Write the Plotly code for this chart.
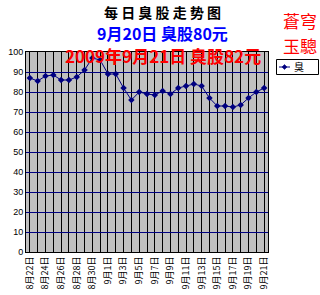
import plotly.graph_objects as go

dates = ["8月22日", "8月23日", "8月24日", "8月25日", "8月26日", "8月27日", "8月28日", "8月29日",
         "8月30日", "8月31日", "9月1日", "9月2日", "9月3日", "9月4日", "9月5日", "9月6日",
         "9月7日", "9月8日", "9月9日", "9月10日", "9月11日", "9月12日", "9月13日", "9月14日",
         "9月15日", "9月16日", "9月17日", "9月18日", "9月19日", "9月20日", "9月21日"]
values = [87, 85.5, 88, 88.5, 86, 86, 87.5, 91, 97, 96, 89, 89, 82, 76, 80, 79,
          78.5, 80.5, 79, 82, 83, 84, 83, 77, 73, 73, 72.5, 73.5, 77, 80, 82]
series_name = "臭"
tick_labels = [d if i % 2 == 0 else "" for i, d in enumerate(dates)]
y_ticks = [0, 10, 20, 30, 40, 50, 60, 70, 80, 90, 100]

W, H = 320, 295
L, R, T, B = 26, 268, 52, 252
NAVY = "#000080"


def xp(px):
    return (px - L) / (R - L)


def yp(py):
    return (B - py) / (B - T)


CJK = "Noto Sans CJK SC"

fig = go.Figure()
fig.add_trace(go.Scatter(
    x=dates, y=values, name=series_name, mode="lines+markers",
    line=dict(color=NAVY, width=1),
    marker=dict(symbol="diamond", size=5, color=NAVY),
    showlegend=False,
))

fig.update_layout(
    width=W, height=H,
    margin=dict(l=L, r=W - R, t=T, b=H - B, pad=0, autoexpand=False),
    paper_bgcolor="white", plot_bgcolor="#C0C0C0",
    showlegend=False,
    xaxis=dict(type="category", range=[-0.5, 30.5],
               tickvals=dates, ticktext=tick_labels, tickangle=-90,
               showgrid=True, gridcolor="black", gridwidth=1,
               showline=True, linecolor="black", mirror=True,
               tickfont=dict(family=CJK, size=9, color="black"),
               ticks="", automargin=False, fixedrange=True),
    yaxis=dict(range=[0, 100], tickvals=y_ticks,
               showgrid=True, gridcolor=NAVY, gridwidth=1,
               showline=True, linecolor="black", mirror=True,
               zeroline=False,
               tickfont=dict(family="Liberation Sans", size=9, color="black"),
               ticks="", automargin=False, fixedrange=True),
)

ann = [
    dict(text="<b>每 日 臭 股 走 势 图</b>", x=xp(162), y=yp(12), size=14, color="black"),
    dict(text="<b>9月20日 臭股80元</b>", x=xp(162), y=yp(33), size=16, color="#0000FF"),
    dict(text="<b>2009年9月21日 臭股82元</b>", x=xp(163), y=yp(55), size=17, color="#FF0000"),
    dict(text="蒼穹", x=xp(300), y=yp(20), size=17, color="#FF0000"),
    dict(text="玉驄", x=xp(300), y=yp(45), size=17, color="#FF0000"),
]
for a in ann:
    fig.add_annotation(text=a["text"], x=a["x"], y=a["y"], xref="paper", yref="paper",
                       xanchor="center", yanchor="middle", showarrow=False,
                       font=dict(family=CJK, size=a["size"], color=a["color"]))

# legend box (drawn as decoration)
fig.add_shape(type="rect", xref="paper", yref="paper",
              x0=xp(276.5), x1=xp(318.5), y0=yp(74.5), y1=yp(59.5),
              line=dict(color="black", width=1), fillcolor="white")
fig.add_shape(type="line", xref="paper", yref="paper",
              x0=xp(279), x1=xp(290), y0=yp(67), y1=yp(67),
              line=dict(color=NAVY, width=1))
cx, cy = 284.5, 67
fig.add_shape(type="path", xref="paper", yref="paper",
              path=f"M {xp(cx-2.5)},{yp(cy)} L {xp(cx)},{yp(cy-2.5)} L {xp(cx+2.5)},{yp(cy)} "
                   f"L {xp(cx)},{yp(cy+2.5)} Z",
              line=dict(color=NAVY, width=0.5), fillcolor=NAVY)
fig.add_annotation(text=series_name, x=xp(292), y=yp(67), xref="paper", yref="paper",
                   xanchor="left", yanchor="middle", showarrow=False,
                   font=dict(family=CJK, size=10, color="black"))

fig.write_html("out.html")
